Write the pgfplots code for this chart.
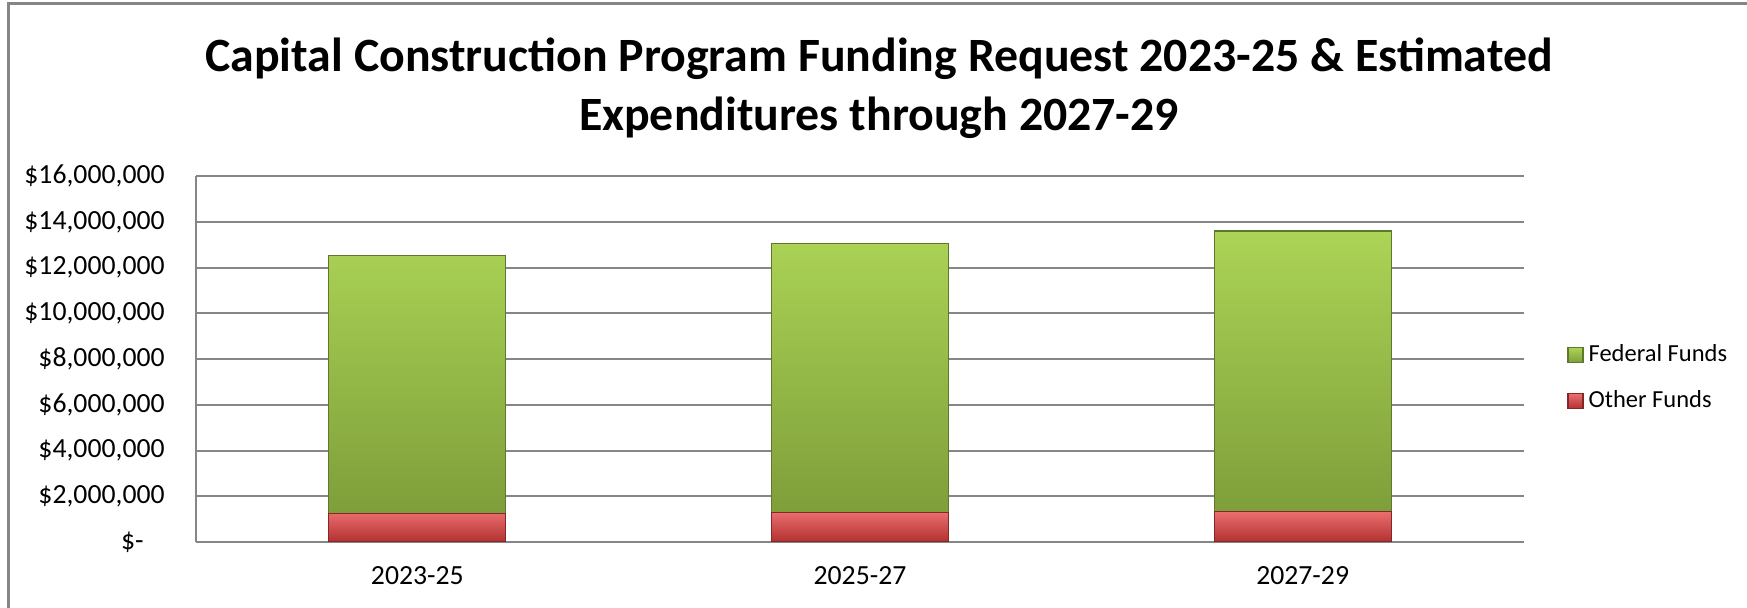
\documentclass[border=0pt]{standalone}
\usepackage{pgfplots}
\pgfplotsset{compat=1.18}
\usepackage{fontspec}
\setmainfont{Carlito}
\definecolor{gridgray}{RGB}{134,134,134}
\definecolor{gtop}{RGB}{172,212,86}
\definecolor{gbot}{RGB}{126,158,58}
\definecolor{gedge}{RGB}{95,120,45}
\definecolor{rtop}{RGB}{236,110,110}
\definecolor{rbot}{RGB}{178,48,48}
\definecolor{redge}{RGB}{130,40,40}
\begin{document}
\begin{tikzpicture}
\useasboundingbox (0,0) rectangle (873.5bp,304bp);
\fill[white] (0,0) rectangle (873.5bp,304bp);
\draw[gridgray, line width=1.5bp] (4bp,-10bp) -- (4bp,302bp) -- (890bp,302bp);
\node[font=\fontsize{24}{28}\selectfont\bfseries, anchor=base] at (439.5bp,268.2bp) {Capital Construction Program Funding Request 2023-25 \& Estimated};
\node[font=\fontsize{24}{28}\selectfont\bfseries, anchor=base] at (439.5bp,238.5bp) {Expenditures through 2027-29};
\begin{axis}[
  at={(98bp,33bp)}, anchor=south west,
  scale only axis, width=664bp, height=182.9bp,
  ybar stacked, bar width=88.5bp,
  xmin=-0.5, xmax=2.5, ymin=0, ymax=16000000,
  xtick={0,1,2}, xticklabels={2023-25,2025-27,2027-29},
  ytick={0,2000000,4000000,6000000,8000000,10000000,12000000,14000000,16000000},
  yticklabels={\$-\rule{10.5bp}{0pt},\$2{,}000{,}000,\$4{,}000{,}000,\$6{,}000{,}000,\$8{,}000{,}000,\$10{,}000{,}000,\$12{,}000{,}000,\$14{,}000{,}000,\$16{,}000{,}000},
  scaled y ticks=false,
  ymajorgrids, grid style={gridgray, line width=1bp},
  axis line style={gridgray, line width=1bp},
  axis x line*=bottom, axis y line*=left,
  major tick length=0pt,
  tick label style={font=\fontsize{13.9}{16}\selectfont},
  yticklabel style={anchor=east, inner sep=0pt, xshift=-15.5bp},
  xticklabel style={anchor=base, inner sep=0pt, yshift=-21.5bp},
  legend style={at={(1.0324,0.448)}, anchor=west, draw=none, fill=none,
    font=\fontsize{12.3}{15}\selectfont, inner sep=0pt,
    nodes={inner sep=0pt, text height=9bp, text depth=3bp},
    row sep=11bp, legend cell align=left},
  /tikz/every odd column/.append style={column sep=2.5bp},
  legend image code/.code={\fill[#1] (0bp,-3.75bp) rectangle (7.5bp,3.75bp);},
  reverse legend,
]
\addplot+[draw=redge, line width=0.6bp, top color=rtop, bottom color=rbot] coordinates {(0,1250000) (1,1280000) (2,1330000)};
\addlegendentry{Other Funds}
\addplot+[draw=gedge, line width=0.6bp, top color=gtop, bottom color=gbot] coordinates {(0,11270000) (1,11770000) (2,12270000)};
\addlegendentry{Federal Funds}
\end{axis}
\end{tikzpicture}
\end{document}
